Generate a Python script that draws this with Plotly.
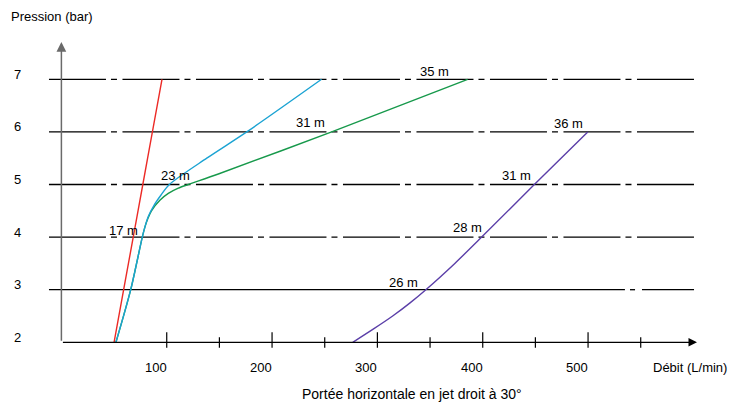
import plotly.graph_objects as go

# ---------------- data ----------------
red_pressure = [2, 3, 4, 5, 6, 7]
red_debit = [50, 59.1, 68.2, 77.3, 86.4, 95.5]

blue_pressure = [2, 3, 4, 4.2, 4.4, 4.6, 4.8, 5.0, 5.5, 6, 7]
blue_debit = [51.8, 65.8, 76.8, 79.4, 82.7, 87.8, 94.6, 102.5, 138, 176, 247]

green_pressure = [2, 3, 4, 4.2, 4.35, 4.5, 4.7, 4.83, 4.93, 5.0, 5.2, 6, 7]
green_debit = [51.8, 65.8, 76.8, 79.4, 82.0, 85.5, 93.5, 101.5, 111.0, 120.5, 149.0, 256.6, 385.7]

purple_pressure = [2, 2.25, 2.5, 2.75, 3, 3.5, 4, 5, 6]
purple_debit = [276.6, 296.0, 314.5, 331.0, 346.0, 373.5, 399.0, 449.0, 499.7]

range_labels = ["17 m", "23 m", "31 m", "35 m", "36 m", "31 m", "28 m", "26 m"]
range_label_debit = [58.5, 108.6, 236.9, 354.2, 481.9, 431.9, 385.1, 325.0]
range_label_pressure = [4.13, 5.17, 6.18, 7.14, 6.16, 5.17, 4.19, 3.14]

pressure_ticks = [2, 3, 4, 5, 6, 7]
debit_major_ticks = [100, 200, 300, 400, 500]
debit_minor_ticks = [150, 250, 350, 450, 550]

# ---------------- styling ----------------
FONT = "Liberation Sans Narrow, Arial Narrow, Liberation Sans, Arial, sans-serif"
FS = 13
RED, BLUE, GREEN, PURPLE = "#ec2a26", "#1ba3d3", "#17994b", "#5b3fa8"

X_RANGE = [-58.29, 645.2]
Y_RANGE = [0.846, 8.5076]
GRID_X0, GRID_X1 = -11.8, 600.6
X_AXIS_END = 603.4
Y_AXIS_END = 7.709

fig = go.Figure()

for p, q, c in [(green_pressure, green_debit, GREEN),
                (blue_pressure, blue_debit, BLUE),
                (purple_pressure, purple_debit, PURPLE),
                (red_pressure, red_debit, RED)]:
    fig.add_trace(go.Scatter(x=q, y=p, mode="lines",
                             line=dict(color=c, width=1.4, shape="spline", smoothing=0.8),
                             hoverinfo="skip"))

shapes = []
dash = "57px,5px,6px,5.5px"
for p in pressure_ticks[2:]:
    shapes.append(dict(type="line", xref="x", yref="y", x0=GRID_X0, x1=GRID_X1, y0=p, y1=p,
                       line=dict(color="black", width=1.3, dash=dash), layer="below"))
# the 3-bar line is drawn solid for most of its length
p3 = pressure_ticks[1]
for a, b in [(GRID_X0, 535.0), (539.8, 544.6), (551.2, GRID_X1)]:
    shapes.append(dict(type="line", xref="x", yref="y", x0=a, x1=b, y0=p3, y1=p3,
                       line=dict(color="black", width=1.3), layer="below"))
# x ticks crossing the axis
for t in debit_major_ticks:
    shapes.append(dict(type="line", xref="x", yref="y", x0=t, x1=t, ysizemode="pixel",
                       yanchor=pressure_ticks[0], y0=-5.5, y1=10,
                       line=dict(color="black", width=1.2)))
for t in debit_minor_ticks:
    shapes.append(dict(type="line", xref="x", yref="y", x0=t, x1=t, ysizemode="pixel",
                       yanchor=pressure_ticks[0], y0=-5.5, y1=5,
                       line=dict(color="black", width=1.2)))

ann = []
# axes with arrows
ann.append(dict(x=0, y=Y_AXIS_END, ax=0, ay=pressure_ticks[0], axref="x", ayref="y",
                xref="x", yref="y", text="", showarrow=True, arrowhead=2, arrowsize=1.3,
                arrowwidth=1.5, arrowcolor="#6a6a6a", standoff=0))
ann.append(dict(x=X_AXIS_END, y=pressure_ticks[0], ax=0, ay=pressure_ticks[0], axref="x", ayref="y",
                xref="x", yref="y", text="", showarrow=True, arrowhead=2, arrowsize=1.3,
                arrowwidth=1.3, arrowcolor="black", standoff=0))

for t in debit_major_ticks:
    ann.append(dict(x=t, y=pressure_ticks[0], xref="x", yref="y", text=str(t), showarrow=False,
                    xanchor="right", yanchor="middle", yshift=-25.2, xshift=2,
                    font=dict(family=FONT, size=FS, color="black")))
for p in pressure_ticks:
    ann.append(dict(x=-41.7, y=p, xref="x", yref="y", text=str(p), showarrow=False,
                    xanchor="center", yanchor="middle", yshift=5,
                    font=dict(family=FONT, size=FS, color="black")))
for t, q, p in zip(range_labels, range_label_debit, range_label_pressure):
    ann.append(dict(x=q, y=p, xref="x", yref="y", text=t, showarrow=False,
                    xanchor="center", yanchor="middle",
                    font=dict(family=FONT, size=FS, color="black")))

ann.append(dict(x=51.5 / 741, y=1 - 17 / 403, xref="paper", yref="paper", text="Pression (bar)",
                showarrow=False, xanchor="center", yanchor="middle",
                font=dict(family=FONT, size=FS, color="black")))
ann.append(dict(x=690 / 741, y=1 - 367.5 / 403, xref="paper", yref="paper", text="Débit (L/min)",
                showarrow=False, xanchor="center", yanchor="middle",
                font=dict(family=FONT, size=FS, color="black")))
ann.append(dict(x=412 / 741, y=1 - 393.5 / 403, xref="paper", yref="paper",
                text="Portée horizontale en jet droit à 30°",
                showarrow=False, xanchor="center", yanchor="middle",
                font=dict(family=FONT, size=14, color="black")))

fig.update_layout(width=741, height=403, margin=dict(l=0, r=0, t=0, b=0),
                  paper_bgcolor="white", plot_bgcolor="white", showlegend=False,
                  xaxis=dict(range=X_RANGE, visible=False, fixedrange=True),
                  yaxis=dict(range=Y_RANGE, visible=False, fixedrange=True),
                  shapes=shapes, annotations=ann)

fig.write_html("out.html", config={"displayModeBar": False},
               post_script="document.body.style.margin='0px';document.body.style.overflow='hidden';")
